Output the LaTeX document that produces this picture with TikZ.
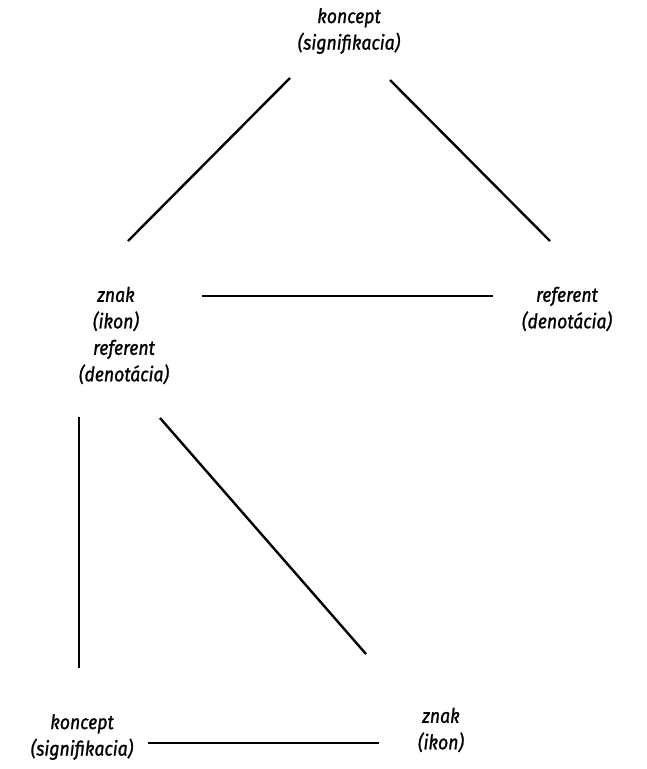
\documentclass[tikz,border=0pt]{standalone}
\usepackage{fontspec}
\setmainfont{Fira Sans}[FakeStretch=0.88,ItalicFeatures={FakeBold=1.2}]
\begin{document}
\begin{tikzpicture}[x=1pt,y=-1pt,
  lbl/.style={align=center,inner sep=0pt,font=\fontsize{20}{26.5}\selectfont\itshape},
  link/.style={line width=2.4pt}]
\useasboundingbox (0,0) rectangle (646,769);
% labels
\node[lbl] (kt) at (349,31) {koncept\\(signifikacia)};
\node[lbl] (zl) at (116,309) {znak\\(ikon)};
\node[lbl] (rl) at (124,362) {referent\\(denotácia)};
\node[lbl] (rr) at (567,309) {referent\\(denotácia)};
\node[lbl] (kb) at (82,737) {koncept\\(signifikacia)};
\node[lbl] (zb) at (441,730) {znak\\(ikon)};
% line end points
\coordinate (a1) at (290,78);  \coordinate (a2) at (128,241);
\coordinate (b1) at (390,80);  \coordinate (b2) at (550,241);
\coordinate (c1) at (202,296); \coordinate (c2) at (493,296);
\coordinate (d1) at (79,417);  \coordinate (d2) at (79,668);
\coordinate (e1) at (160,418); \coordinate (e2) at (366,654);
\coordinate (f1) at (148,743); \coordinate (f2) at (379,743);
% lines
\draw[link] (a1) -- (a2);
\draw[link] (b1) -- (b2);
\draw[link] (c1) -- (c2);
\draw[link] (d1) -- (d2);
\draw[link] (e1) -- (e2);
\draw[link] (f1) -- (f2);
\end{tikzpicture}
\end{document}
